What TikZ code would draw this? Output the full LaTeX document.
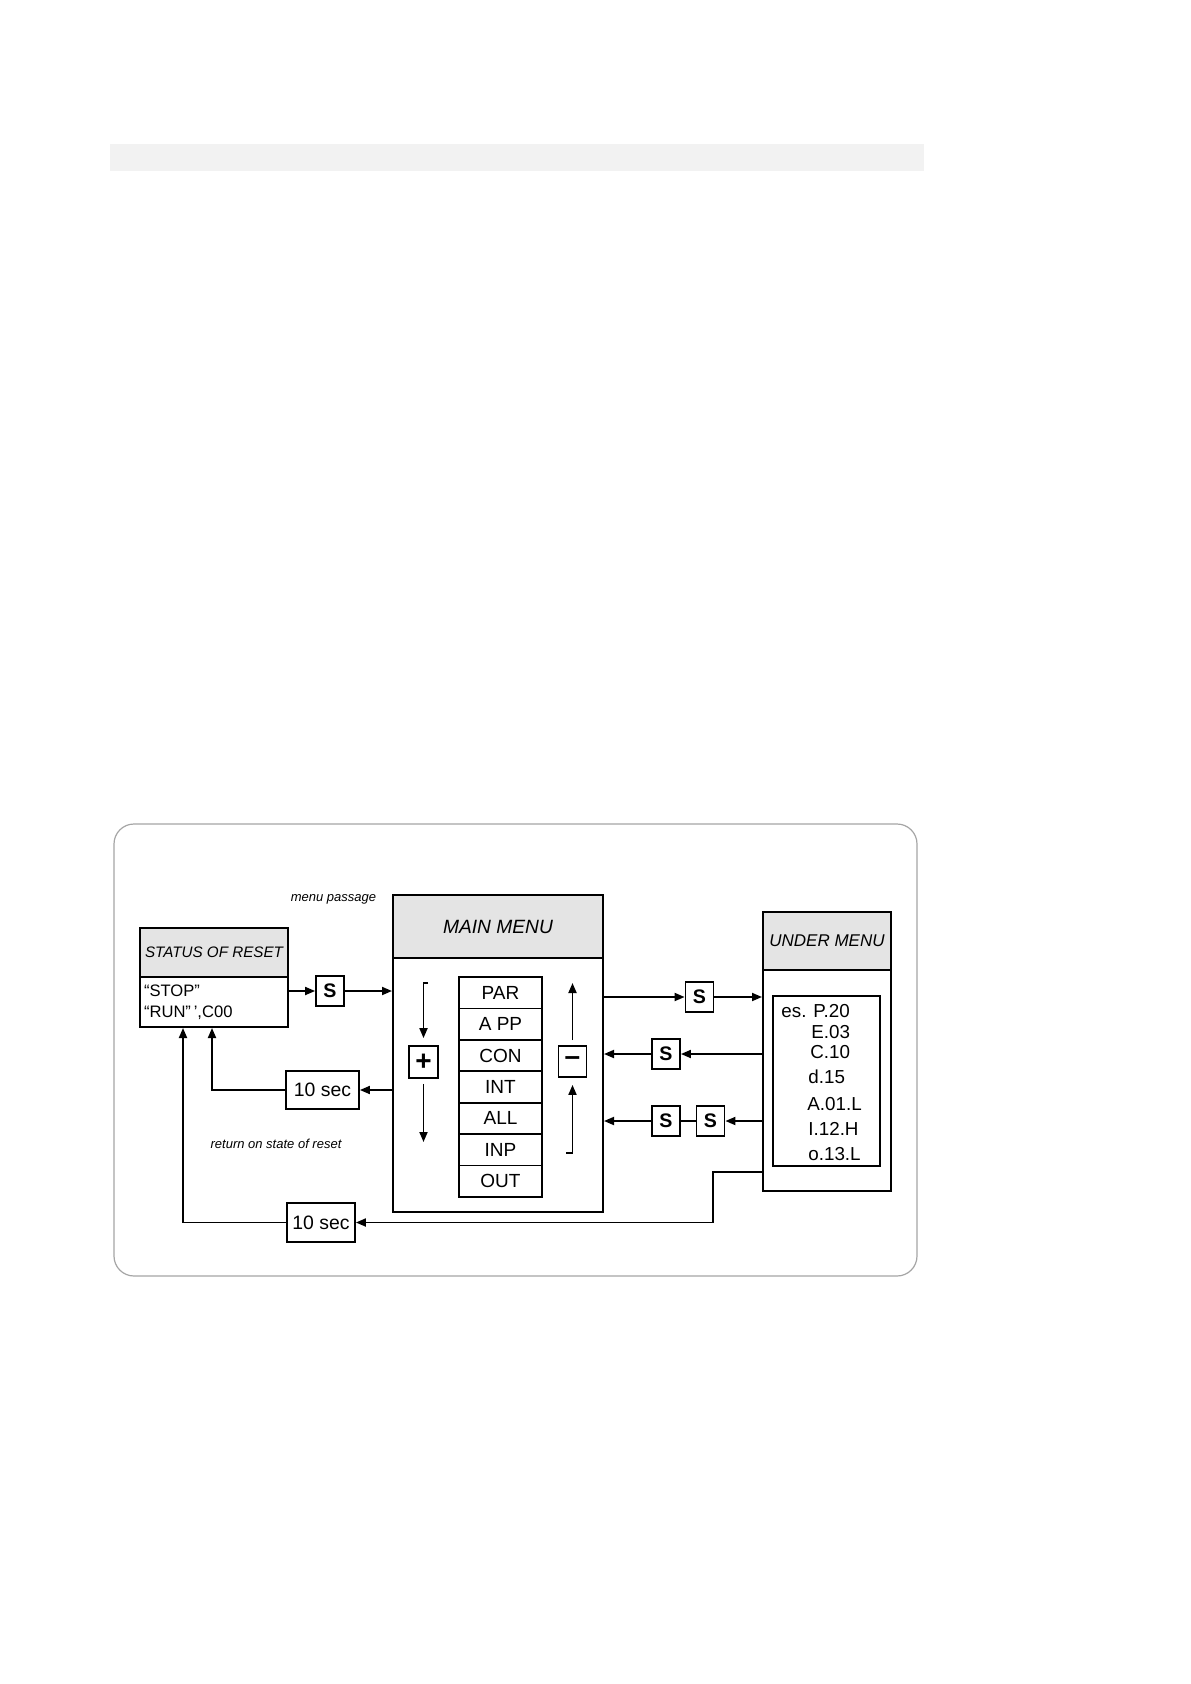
\documentclass[tikz,border=0pt]{standalone}
\usepackage{fontspec}
\setmainfont{Liberation Sans}
\usetikzlibrary{arrows.meta,calc}
\definecolor{hdrgray}{RGB}{228,228,228}
\definecolor{bandgray}{RGB}{242,242,242}
\definecolor{framegray}{RGB}{165,165,165}

\begin{document}
\begin{tikzpicture}[x=0.5pt,y=-0.5pt,
  >={Triangle[length=5pt,width=4pt]},
  hdr/.style={rectangle,draw,line width=1pt,fill=hdrgray,inner sep=0pt},
  blk/.style={rectangle,draw,line width=1pt,inner sep=0pt},
  itm/.style={rectangle,draw,line width=0.9pt,minimum width=41.5pt,minimum height=15.7pt,
              inner sep=0pt,font=\fontsize{9.5}{11}\selectfont},
  skey/.style={rectangle,draw,line width=0.9pt,minimum width=14pt,minimum height=15pt,
               inner sep=0pt,font=\fontsize{9.8}{11}\selectfont\bfseries},
  tbox/.style={rectangle,draw,line width=0.9pt,minimum width=35pt,minimum height=19pt,
               inner sep=0pt,font=\fontsize{9.7}{11}\selectfont},
  lbl/.style={font=\fontsize{6.5}{8}\selectfont\itshape},
  conn/.style={line width=0.9pt}
]
\useasboundingbox (0,0) rectangle (1190,1684);

% page band and frame
\fill[bandgray] (110,144) rectangle (924,171);
\draw[framegray,line width=0.6pt,rounded corners=10pt] (114,824) rectangle (917,1276);

% status of reset
\node[hdr,minimum width=74pt,minimum height=24.5pt,font=\fontsize{7.6}{9}\selectfont\itshape]
  (stathead) at (214,952.5) {STATUS OF RESET};
\node[blk,minimum height=25pt,text width=70pt,inner xsep=2pt,align=left,
      font=\fontsize{8.3}{10.5}\selectfont] (statbody) at (214,1002) {“STOP”\\“RUN”\,',C00};

% main menu
\node[hdr,minimum width=105pt,minimum height=31.5pt,font=\fontsize{9.6}{11}\selectfont\itshape]
  (mainhead) at (498,926.5) {MAIN MENU};
\node[blk,minimum width=105pt,minimum height=127pt] (mainbody) at (498,1085) {};
\foreach \lbl [count=\i] in {PAR,A PP,CON,INT,ALL,INP,OUT}
  \node[itm] (item\i) at (500.5,{992.7+31.43*(\i-1)}) {\lbl};
\node[skey,minimum width=14.5pt,minimum height=16pt,font=\fontsize{14}{14}\selectfont\bfseries]
  (plus) at (423.5,1062) {+};
\node[skey,minimum height=15.5pt,font=\fontsize{14}{14}\selectfont\bfseries]
  (minus) at (572.5,1061.5) {--};

% under menu
\node[hdr,minimum width=64pt,minimum height=29pt,font=\fontsize{8.5}{10}\selectfont\itshape]
  (underhead) at (827,941) {UNDER MENU};
\node[blk,minimum width=64pt,minimum height=110.5pt] (underbody) at (827,1080.5) {};
\node[blk,line width=0.9pt,minimum width=53.5pt,minimum height=85pt] (ulist) at (826.5,1081) {};
\foreach \xx/\yy/\txt [count=\k] in {781/1017/es. P.20,811/1038/E.03,810/1058/C.10,
    808/1083/d.15,807/1110/A.01.L,808/1135/I.12.H,808/1160/o.13.L}
  \node[anchor=base west,inner sep=0pt,font=\fontsize{9.4}{11}\selectfont] (ul\k) at (\xx,\yy) {\txt};

% keys and timers
\node[skey] (s1) at (330,991) {S};
\node[skey] (s2) at (699.5,997) {S};
\node[skey] (s3) at (666,1054) {S};
\node[skey] (s4) at (666,1121) {S};
\node[skey] (s5) at (710.5,1121) {S};
\node[tbox,minimum width=36.5pt] (t1) at (322.5,1090) {10 sec};
\node[tbox,minimum width=34pt,minimum height=19.5pt] (t2) at (321,1222.5) {10 sec};

\node[lbl] (passage) at (333.5,899) {menu passage};
\node[lbl] (retlbl) at (276,1144) {return on state of reset};

% scroll arrows inside main menu
\coordinate (plusBrk) at (428,983);
\coordinate (plusEnd) at (423.5,1142);
\coordinate (minTop) at (572.5,983);
\coordinate (minBrk) at (566,1153);
\draw[conn,->,shorten >=3.5pt] (plusBrk) -| (plus.north);
\draw[conn,->,shorten <=2.5pt] (plus) -- (plusEnd);
\draw[conn,->,shorten <=2.5pt] (minus) -- (minTop);
\draw[conn,->,shorten >=3.5pt] (minBrk) -| (minus.south);

% connectors
\draw[conn,->] (s1 -| statbody.east) -- (s1.west);
\draw[conn,->] (s1.east) -- (s1 -| mainbody.west);
\draw[conn,->] (s2 -| mainbody.east) -- (s2.west);
\draw[conn,->] (s2.east) -- (s2 -| underbody.west);
\draw[conn,->] (s3 -| underbody.west) -- (s3.east);
\draw[conn,->] (s3.west) -- (s3 -| mainbody.east);
\draw[conn,->] (s5 -| underbody.west) -- (s5.east);
\draw[conn] (s5.west) -- (s4.east);
\draw[conn,->] (s4.west) -- (s4 -| mainbody.east);
\draw[conn,->] (t1 -| mainbody.west) -- (t1.east);
\draw[conn,->] (t1.west) -| ([xshift=-1pt]statbody.south);

\coordinate (bend) at (713,1172);
\draw[conn,->] (bend -| underbody.west) -- (bend) |- (t2.east);
\draw[conn,->] (t2.west) -| ([xshift=22pt]statbody.south west);
\end{tikzpicture}
\end{document}
